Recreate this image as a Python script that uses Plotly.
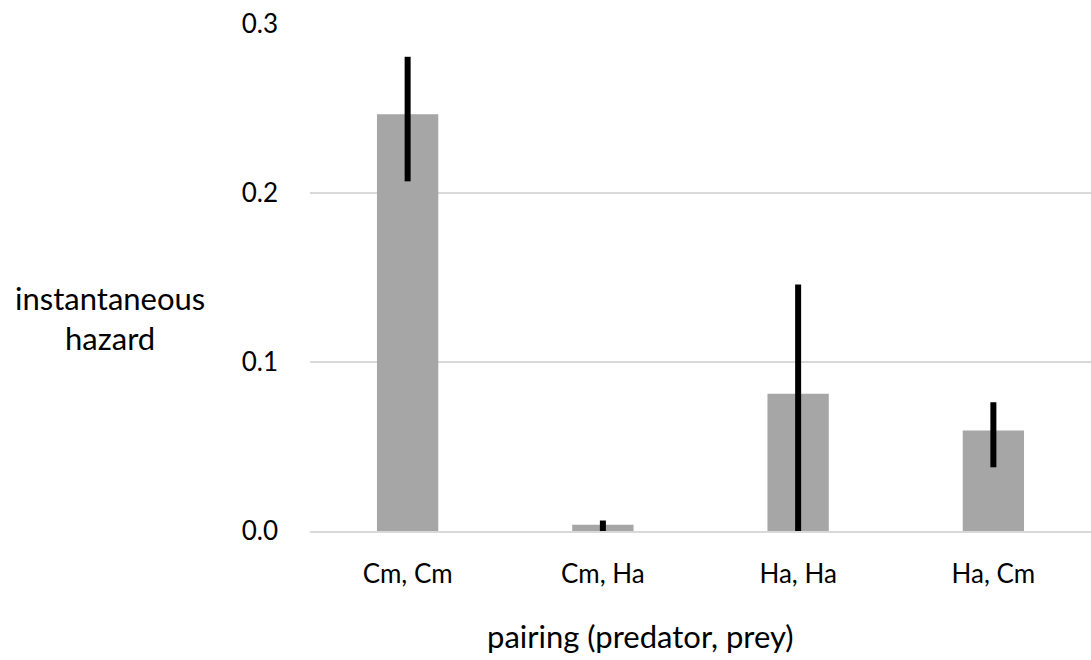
import plotly.graph_objects as go

categories = ["Cm, Cm", "Cm, Ha", "Ha, Ha", "Ha, Cm"]
hazard = [0.2466, 0.0037, 0.0812, 0.0595]
upper = [0.2806, 0.0062, 0.1458, 0.0762]
lower = [0.2069, 0.0, 0.0, 0.0377]
y_ticks = [0.0, 0.1, 0.2, 0.3]
y_tick_labels = ["0.0", "0.1", "0.2", "0.3"]

err_plus = [u - h for u, h in zip(upper, hazard)]
err_minus = [h - l for h, l in zip(hazard, lower)]

FONT = "Lato"
FS_TICK = 26
FS_TITLE = 31

W, H = 1091, 660
ML, MR, MT, MB = 310, 0, 24, 129
pw = W - ML - MR
ph = H - MT - MB


def px_to_paper(x_px, y_px):
    return (x_px - ML) / pw, (H - MB - y_px) / ph


fig = go.Figure(
    go.Bar(
        x=categories,
        y=hazard,
        marker=dict(color="#A6A6A6", line=dict(width=0)),
        error_y=dict(
            type="data",
            symmetric=False,
            array=err_plus,
            arrayminus=err_minus,
            color="black",
            thickness=6,
            width=0,
        ),
        hoverinfo="skip",
    )
)

ytx, yty = px_to_paper(110, 318)
xtx, xty = px_to_paper(640, 636)

fig.update_layout(
    width=W,
    height=H,
    margin=dict(l=ML, r=MR, t=MT, b=MB),
    paper_bgcolor="white",
    plot_bgcolor="white",
    bargap=0.686,
    showlegend=False,
    font=dict(family=FONT, size=FS_TICK, color="black"),
    xaxis=dict(
        showgrid=False,
        showline=True,
        linecolor="#D9D9D9",
        linewidth=2,
        ticks="",
        ticklabelstandoff=19,
        tickfont=dict(family=FONT, size=FS_TICK, color="black"),
    ),
    yaxis=dict(
        range=[0, 0.3],
        tickvals=y_ticks,
        ticktext=y_tick_labels,
        showgrid=True,
        gridcolor="#D9D9D9",
        gridwidth=2,
        zeroline=False,
        showline=False,
        ticks="",
        ticklabelstandoff=31,
        tickfont=dict(family=FONT, size=FS_TICK, color="black"),
    ),
    annotations=[
        dict(
            text="instantaneous<br>hazard",
            x=ytx, y=yty,
            xref="paper", yref="paper",
            xanchor="center", yanchor="middle",
            showarrow=False,
            font=dict(family=FONT, size=FS_TITLE, color="black"),
            align="center",
        ),
        dict(
            text="pairing (predator, prey)",
            x=xtx, y=xty,
            xref="paper", yref="paper",
            xanchor="center", yanchor="middle",
            showarrow=False,
            font=dict(family=FONT, size=FS_TITLE, color="black"),
        ),
    ],
)

fig.write_html(
    "out.html",
    config={"displayModeBar": False},
    post_script="document.body.style.margin='0';document.body.style.overflow='hidden';",
)
